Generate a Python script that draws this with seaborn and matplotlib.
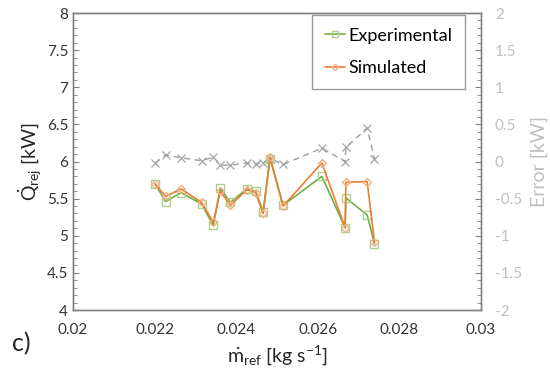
import matplotlib
matplotlib.use("Agg")
import matplotlib.pyplot as plt
import numpy as np
import pandas as pd
import seaborn as sns
from matplotlib.ticker import MultipleLocator

# values (order matters: lines join points in this order)
m_ref = [0.02201, 0.02227, 0.02265, 0.02315, 0.02344, 0.02361, 0.02386,
         0.02426, 0.02448, 0.02466, 0.02483, 0.02515, 0.02610, 0.02667,
         0.02669, 0.02721, 0.02739]
q_exp = [5.70, 5.46, 5.58, 5.43, 5.14, 5.64, 5.45, 5.63, 5.60, 5.32,
         6.04, 5.41, 5.80, 5.11, 5.51, 5.28, 4.89]
q_sim = [5.70, 5.53, 5.63, 5.45, 5.18, 5.60, 5.41, 5.62, 5.58, 5.30,
         6.06, 5.40, 5.98, 5.11, 5.72, 5.73, 4.91]
err = [-0.02, 0.09, 0.05, 0.01, 0.06, -0.05, -0.05, -0.02, -0.03, -0.02,
       0.04, -0.04, 0.18, 0.00, 0.19, 0.45, 0.03]

df = pd.DataFrame({"m": m_ref, "exp": q_exp, "sim": q_sim, "err": err})

sns.set_style("white")
plt.rcParams["font.family"] = ["Lato", "DejaVu Sans"]
plt.rcParams["mathtext.fontset"] = "custom"
plt.rcParams["mathtext.rm"] = "Lato"
plt.rcParams["mathtext.it"] = "Lato:italic"

GREEN = "#70AD47"
ORANGE = "#ED7D31"
GREY = "#A5A5A5"
AXIS = "#808080"
LIGHT = "#BFBFBF"

fig = plt.figure(figsize=(5.5, 3.74), dpi=100)
ax = fig.add_axes([0.1327, 0.1711, 0.7418, 0.7941])
ax2 = ax.twinx()

sns.lineplot(data=df, x="m", y="err", ax=ax2, sort=False, estimator=None,
             color=GREY, linestyle=(0, (4, 3)), linewidth=1.1, marker="x",
             markersize=5.5, markeredgecolor=GREY, markeredgewidth=0.9)
sns.lineplot(data=df, x="m", y="exp", ax=ax, sort=False, estimator=None,
             color=GREEN, linewidth=1.2, marker="s", markersize=5.5,
             markerfacecolor="none", markeredgecolor="#A9D18E",
             markeredgewidth=1.0, label="Experimental")
sns.lineplot(data=df, x="m", y="sim", ax=ax, sort=False, estimator=None,
             color=ORANGE, linewidth=1.2, marker="D", markersize=4.5,
             markerfacecolor="none", markeredgecolor="#F4B183",
             markeredgewidth=1.0, label="Simulated")

ax.set_zorder(ax2.get_zorder() + 1)
ax.patch.set_visible(False)

ax.set_xlim(0.02, 0.03)
ax.set_ylim(4, 8)
ax2.set_ylim(-2, 2)
ax.xaxis.set_minor_locator(MultipleLocator(0.0004))
ax.yaxis.set_minor_locator(MultipleLocator(0.1))
ax2.yaxis.set_minor_locator(MultipleLocator(0.1))

ax.set_xticks([0.02, 0.022, 0.024, 0.026, 0.028, 0.03])
ax.set_xticklabels(["0.02", "0.022", "0.024", "0.026", "0.028", "0.03"])
ax.set_yticks([4, 4.5, 5, 5.5, 6, 6.5, 7, 7.5, 8])
ax.set_yticklabels(["4", "4.5", "5", "5.5", "6", "6.5", "7", "7.5", "8"])
ax2.set_yticks([-2, -1.5, -1, -0.5, 0, 0.5, 1, 1.5, 2])
ax2.set_yticklabels(["-2", "-1.5", "-1", "-0.5", "0", "0.5", "1", "1.5", "2"])

for a in (ax, ax2):
    for s in a.spines.values():
        s.set_color(AXIS)
        s.set_linewidth(1.0)
ax.tick_params(axis="both", which="both", direction="in", color=AXIS,
               labelsize=11, labelcolor="#333333", top=False, right=False)
ax.tick_params(which="major", length=4)
ax.tick_params(which="minor", length=3)
ax.tick_params(axis="x", pad=9)
ax2.tick_params(axis="y", which="both", direction="in", color=AXIS,
                labelsize=11, labelcolor=LIGHT, left=False, pad=10)
ax2.tick_params(which="major", length=4)
ax2.tick_params(which="minor", length=3)

ax.set_xlabel(r"$\dot{\mathrm{m}}_{\mathrm{ref}}$ [kg s$^{\mathrm{-1}}$]",
              fontsize=14, labelpad=5)
ax.set_ylabel(r"$\dot{\mathrm{Q}}_{\mathrm{rej}}$ [kW]", fontsize=14,
              labelpad=2)
ax2.set_ylabel("Error [kW]", fontsize=14, color=LIGHT, labelpad=6)

leg = ax.legend(loc="upper right", bbox_to_anchor=(0.961, 0.993),
                borderaxespad=0, fontsize=13, frameon=True, fancybox=False,
                handlelength=1.1, handletextpad=0.2, borderpad=0.7,
                labelspacing=0.9, markerscale=0.7)
leg.get_frame().set_edgecolor(AXIS)
leg.get_frame().set_linewidth(1.0)
for t in leg.get_texts():
    t.set_color("black")

fig.text(0.022, 0.06, "c)", fontsize=18)

fig.savefig("out.png", dpi=100)
